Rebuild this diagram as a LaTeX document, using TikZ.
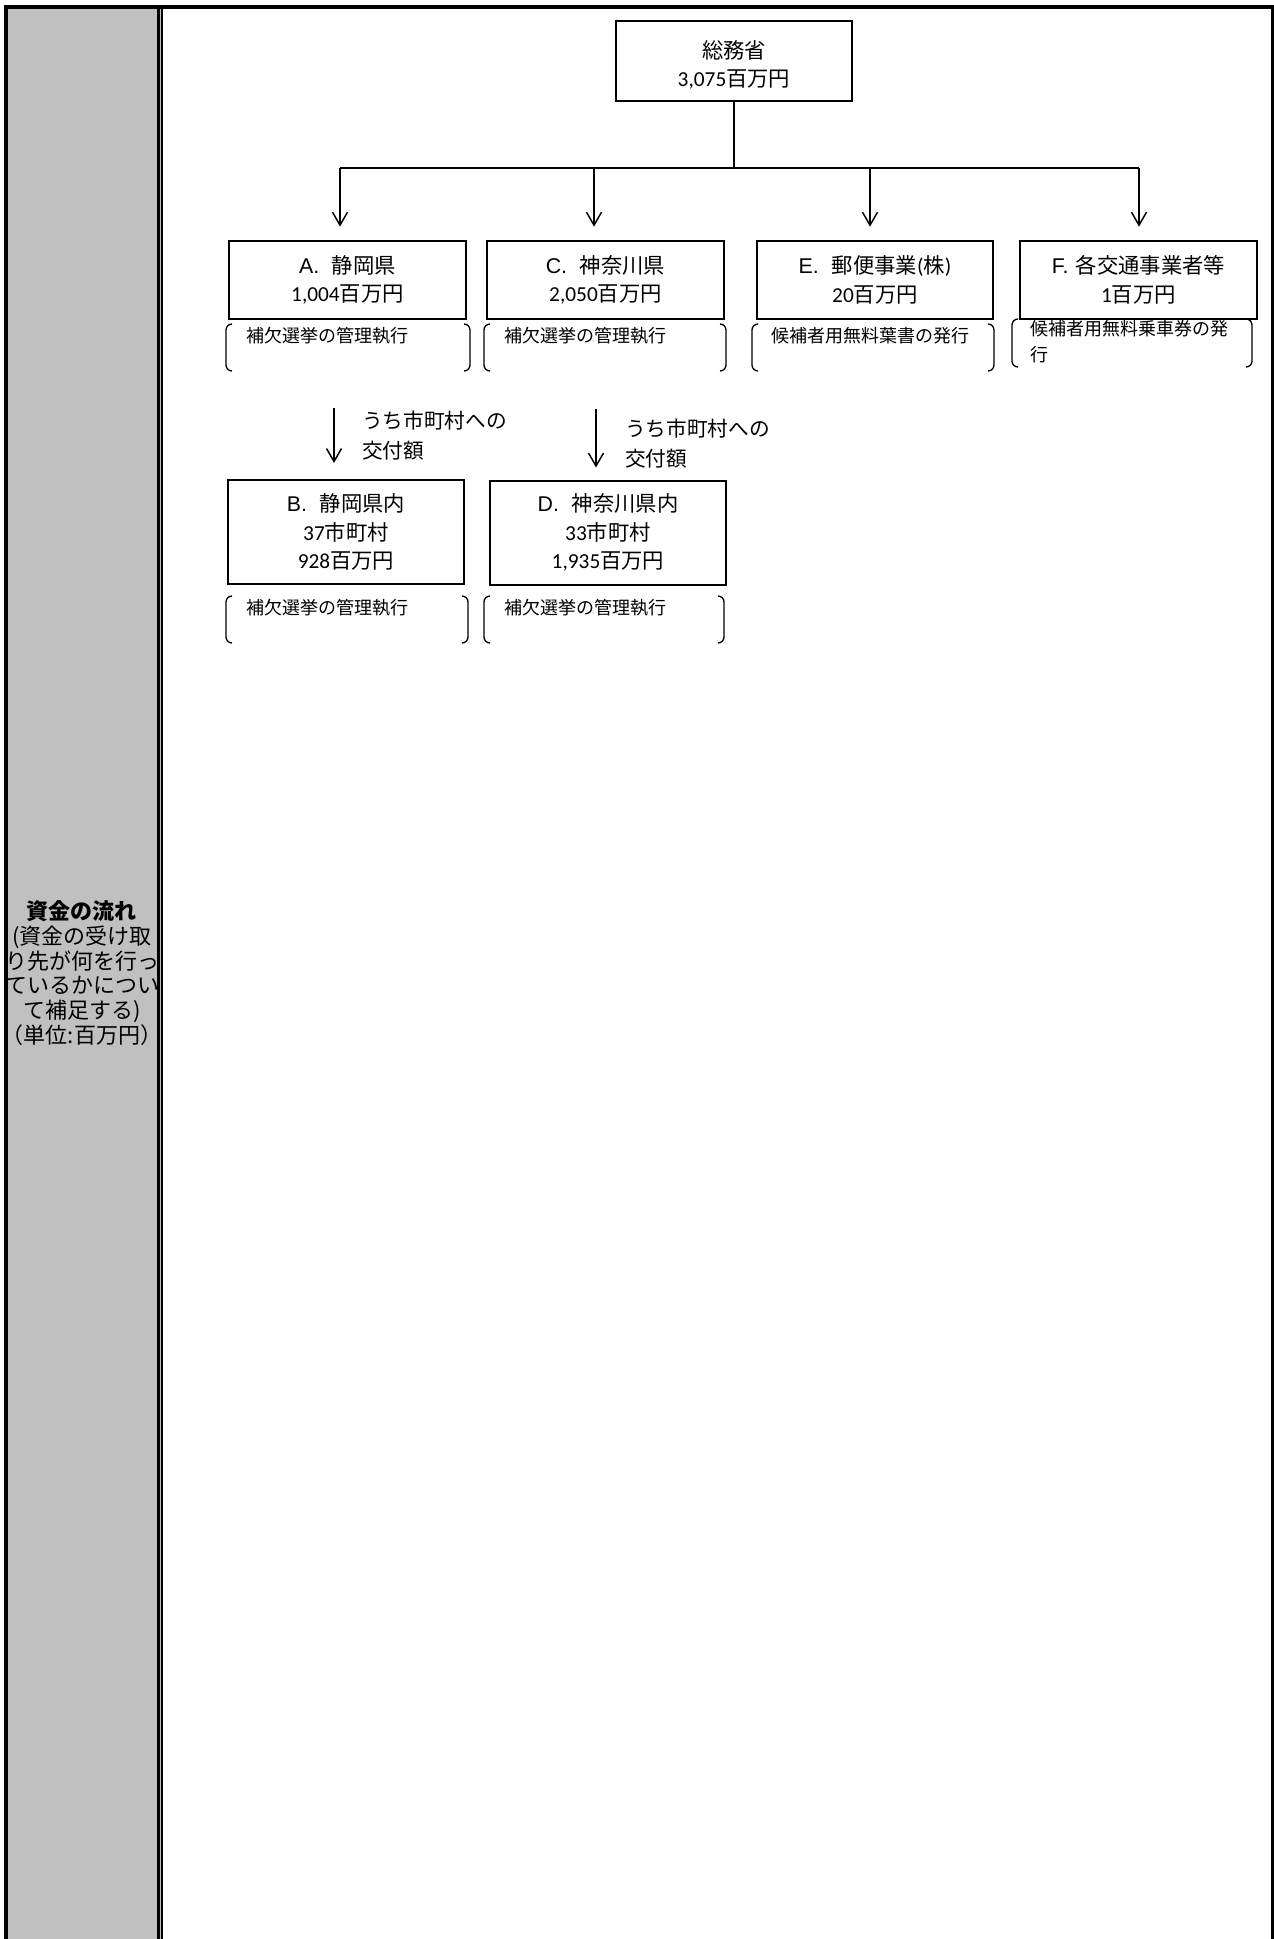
\documentclass[tikz,border=0pt]{standalone}
\usepackage{fontspec}
\setmainfont{Noto Sans CJK JP}
\newfontfamily\numf{Carlito}
\newfontfamily\latf{Liberation Sans}
\usetikzlibrary{arrows.meta}
\definecolor{sidegrey}{HTML}{C0C0C0}
\newcommand\brkpair[4]{%
  \draw[brk] (#1+6,#2) to[out=180,in=90] (#1,#2+6) -- (#1,#4-6) to[out=-90,in=180] (#1+6,#4);
  \draw[brk] (#3-6,#2) to[out=0,in=90] (#3,#2+6) -- (#3,#4-6) to[out=-90,in=0] (#3-6,#4);}
\newcommand\lt[1]{{\latf #1}\hspace{0.6em}}
\begin{document}
\begin{tikzpicture}[x=0.75pt,y=-0.75pt,
  box/.style={draw, line width=1.5pt, rectangle, inner sep=0pt, align=center,
    font=\fontsize{16}{21.3}\selectfont},
  btext/.style={inner sep=0pt, align=center, font=\fontsize{16}{21.3}\selectfont},
  note/.style={anchor=west, inner sep=0pt, align=left, font=\fontsize{13.5}{19.5}\selectfont},
  lbl/.style={anchor=north west, inner sep=0pt, align=left, font=\fontsize{15.5}{22.3}\selectfont},
  brk/.style={line width=1pt},
  conn/.style={line width=1.1pt},
  arr/.style={line width=1.1pt, -{Straight Barb[length=9.75pt,width=11.25pt]}}]
\useasboundingbox (0,0) rectangle (1274,1939);
\fill[white] (0,0) rectangle (1274,1939);
% side column
\fill[sidegrey] (8,9) rectangle (160.5,1939);
\draw[line width=2.25pt] (158.5,9) -- (158.5,1939);
\draw[line width=1.5pt] (162,9) -- (162,1939);
\draw[line width=3pt] (6,1939) -- (6,7) -- (1272.5,7) -- (1272.5,1939);
\node[align=center, inner sep=0pt, font=\fontsize{16.5}{18.5}\selectfont] (side) at (82,973)
  {{\bfseries 資金の流れ}\\(資金の受け取\\り先が何を行っ\\ているかについ\\て補足する)\\（単位:百万円）};
% boxes
\node[box, minimum width=177pt, minimum height=60pt] (top) at (734,61) {};
\node[btext] (topt) at (734,65) {総務省\\{\numf 3,075}百万円};
\node[box, minimum width=177.75pt, minimum height=58.5pt] (A) at (347.5,280) {\lt{A.}静岡県\\{\numf 1,004}百万円};
\node[box, minimum width=177.75pt, minimum height=58.5pt] (C) at (605.5,280) {\lt{C.}神奈川県\\{\numf 2,050}百万円};
\node[box, minimum width=177pt, minimum height=58.5pt] (E) at (875,280) {\lt{E.}郵便事業{\numf (}株{\numf )}\\{\numf 20}百万円};
\node[box, minimum width=177.75pt, minimum height=58.5pt] (F) at (1138.5,280) {{\latf F.}\hspace{0.35em}各交通事業者等\\{\numf 1}百万円};
\node[box, minimum width=177pt, minimum height=78pt] (B) at (346,532) {\lt{B.}静岡県内\\{\numf 37}市町村\\{\numf 928}百万円};
\node[box, minimum width=177pt, minimum height=78pt] (D) at (608,532.5) {\lt{D.}神奈川県内\\{\numf 33}市町村\\{\numf 1,935}百万円};
% connectors
\coordinate (bus) at (734,168);
\coordinate (bA) at (340,168);
\coordinate (bC) at (594,168);
\coordinate (bE) at (870,168);
\coordinate (bF) at (1139,168);
\draw[conn] (top.south) -- (bus);
\draw[conn] (bA) -- (bF);
\draw[arr, shorten >=10pt] (bA) -- (bA |- A.north);
\draw[arr, shorten >=10pt] (bC) -- (bC |- C.north);
\draw[arr, shorten >=10pt] (bE) -- (bE |- E.north);
\draw[arr, shorten >=10pt] (bF) -- (bF |- F.north);
\coordinate (ab) at (334,408);
\coordinate (cd) at (596,409);
\draw[arr, shorten >=12pt] (ab) -- (ab |- B.north);
\draw[arr, shorten >=9pt] (cd) -- (cd |- D.north);
\node[lbl] (labB) at (362,411) {うち市町村への\\交付額};
\node[lbl] (labD) at (625,419) {うち市町村への\\交付額};
% notes
\brkpair{226}{324}{470}{371}
\brkpair{484}{324}{726}{371}
\brkpair{752}{324}{994}{371}
\brkpair{1012}{319}{1252}{367}
\brkpair{226}{596}{468}{643}
\brkpair{484}{596}{724}{643}
\node[note] (nA) at (246,336) {補欠選挙の管理執行};
\node[note] (nC) at (504,336) {補欠選挙の管理執行};
\node[note] (nE) at (771,336) {候補者用無料葉書の発行};
\node[note, anchor=north west] (nF) at (1030,320) {候補者用無料乗車券の発\\行};
\node[note] (nB) at (246,608) {補欠選挙の管理執行};
\node[note] (nD) at (504,608) {補欠選挙の管理執行};
\end{tikzpicture}
\end{document}
